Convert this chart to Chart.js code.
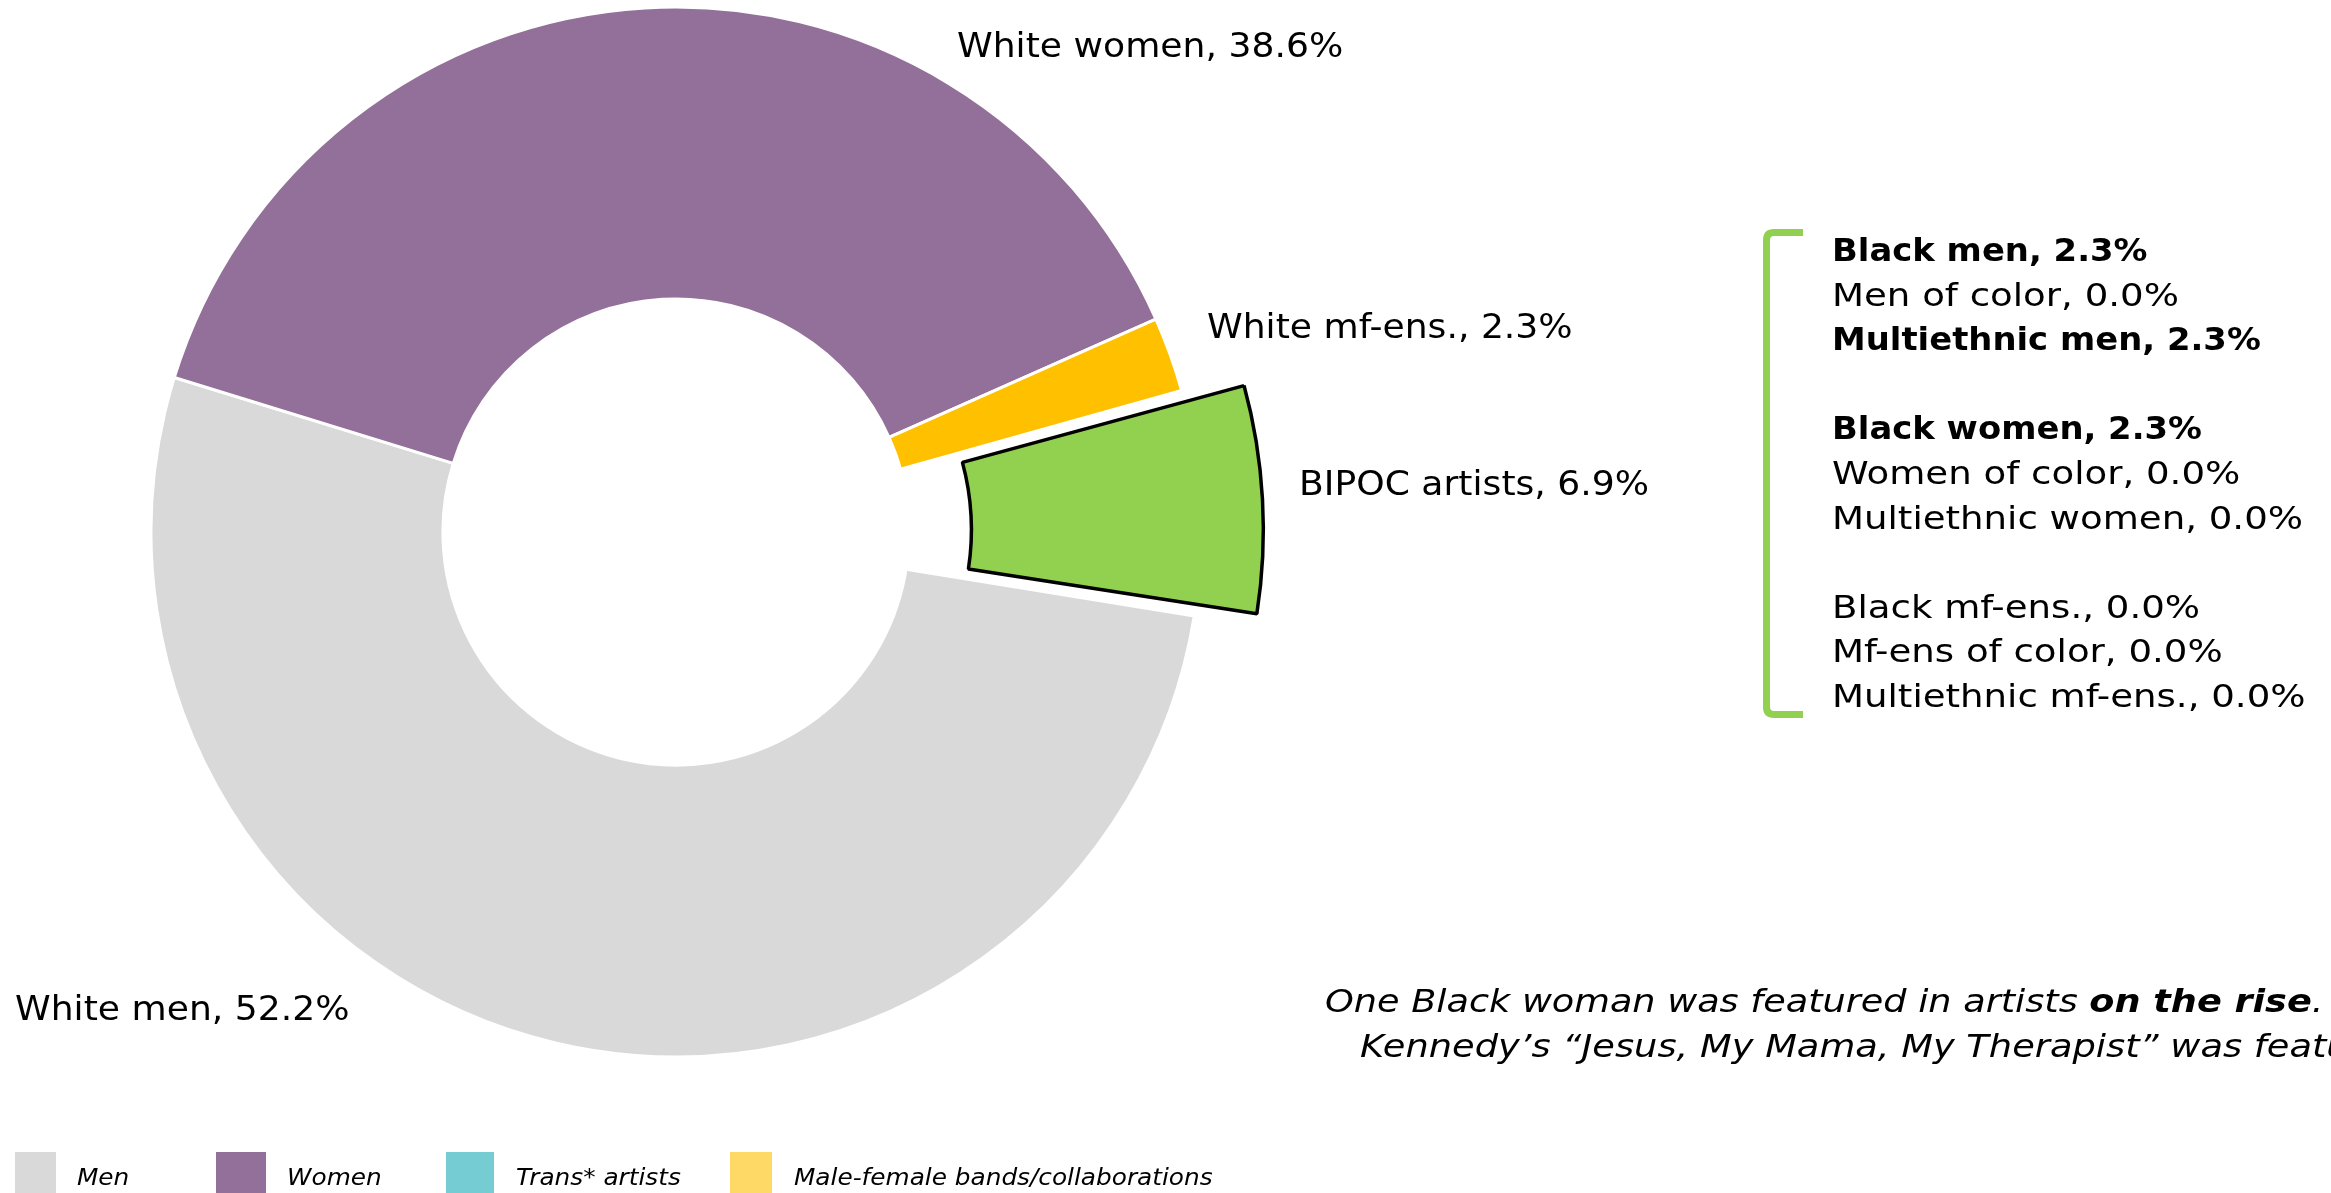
<!DOCTYPE html>
<html>
<head>
<meta charset="utf-8">
<script src="https://cdn.jsdelivr.net/npm/chart.js@4/dist/chart.umd.min.js"></script>
<style>
  html, body { margin: 0; padding: 0; background: #fff; overflow: hidden; }
  body { width: 2331px; height: 1193px; position: relative; }
  #donutBox { position: absolute; left: 0; top: 0; width: 1352px; height: 1064px; }
  #overlay { position: absolute; left: 0; top: 0; pointer-events: none; }
  #overlay text { font-family: "DejaVu Sans", sans-serif; fill: #000; }
</style>
</head>
<body>
<div id="donutBox"><canvas id="donut"></canvas></div>
<svg id="overlay" width="2331" height="1193" xmlns="http://www.w3.org/2000/svg"></svg>
<script>
// slices of the ring
const categories = ['White men', 'White women', 'White mf-ens.', 'BIPOC artists'];
const shares = [52.2, 38.6, 2.3, 6.9];
const sliceColors = ['#d9d9d9', '#937099', '#ffc000', '#92d050'];

// breakdown of the BIPOC slice
const bipocGroups = [
  'Black men', 'Men of color', 'Multiethnic men',
  'Black women', 'Women of color', 'Multiethnic women',
  'Black mf-ens.', 'Mf-ens of color', 'Multiethnic mf-ens.'
];
const bipocShares = [2.3, 0.0, 2.3, 2.3, 0.0, 0.0, 0.0, 0.0, 0.0];

// legend entries
const legendLabels = ['Men', 'Women', 'Trans* artists', 'Male-female bands/collaborations'];
const legendColors = ['#d9d9d9', '#937099', '#75ccd3', '#ffd966'];

// layout
const labelPos = [[15, 1020], [957, 57], [1207, 338], [1299, 495]];
const legendBoxes = [[15, 41], [216, 50], [446, 48], [730, 42]];
const legendTextX = [77, 287, 516, 794];

new Chart(document.getElementById('donut'), {
  type: 'doughnut',
  data: {
    labels: categories,
    datasets: [{
      data: shares,
      backgroundColor: sliceColors,
      borderColor: ['#ffffff', '#ffffff', '#ffffff', '#000000'],
      borderWidth: [3, 3, 3, 3.5],
      offset: [0, 0, 0, 158]
    }]
  },
  options: {
    responsive: true,
    maintainAspectRatio: false,
    animation: false,
    radius: 525,
    cutout: '44.4%',
    rotation: 99.2,
    layout: { padding: 0 },
    plugins: {
      legend: { display: false },
      tooltip: { enabled: false }
    }
  }
});

const svg = document.getElementById('overlay');
const NS = 'http://www.w3.org/2000/svg';

// the wide geometric face isn't installed, so DejaVu gets stretched a bit
function addText(x, y, parts, size, style, stretch) {
  const t = document.createElementNS(NS, 'text');
  t.setAttribute('x', 0);
  t.setAttribute('y', 0);
  t.setAttribute('transform', `translate(${x} ${y}) scale(${stretch || 1} 1)`);
  t.setAttribute('font-size', size);
  if (style) t.setAttribute('font-style', style);
  parts.forEach(p => {
    const s = document.createElementNS(NS, 'tspan');
    if (p.bold) s.setAttribute('font-weight', 'bold');
    s.textContent = p.text;
    t.appendChild(s);
  });
  svg.appendChild(t);
}

function addRect(x, y, w, h, fill) {
  const r = document.createElementNS(NS, 'rect');
  r.setAttribute('x', x);
  r.setAttribute('y', y);
  r.setAttribute('width', w);
  r.setAttribute('height', h);
  r.setAttribute('fill', fill);
  svg.appendChild(r);
}

const pct = v => v.toFixed(1) + '%';

// slice labels
categories.forEach((c, i) => {
  addText(labelPos[i][0], labelPos[i][1], [{ text: c + ', ' + pct(shares[i]) }], 33, null, 1.095);
});

// bracket next to the breakdown
const bracket = document.createElementNS(NS, 'path');
bracket.setAttribute('d', 'M1803 232.5 H1774 Q1766.5 232.5 1766.5 240 V707 Q1766.5 714.5 1774 714.5 H1803');
bracket.setAttribute('fill', 'none');
bracket.setAttribute('stroke', '#92d050');
bracket.setAttribute('stroke-width', 7);
svg.appendChild(bracket);

// breakdown list, one blank row between groups
bipocGroups.forEach((g, i) => {
  const row = i + Math.floor(i / 3);
  const bold = bipocShares[i] > 0;
  addText(1832, 261 + row * 44.6, [{ text: g + ', ' + pct(bipocShares[i]), bold: bold }], 32, null, bold ? 1.058 : 1.16);
});

// note under the breakdown
addText(1325, 1012, [
  { text: 'One Black woman was featured in artists ' },
  { text: 'on the rise', bold: true },
  { text: '.' }
], 32, 'italic', 1.145);
addText(1360, 1057, [{ text: 'Kennedy\u2019s \u201cJesus, My Mama, My Therapist\u201d was featured' }], 32, 'italic', 1.15);

// legend
legendLabels.forEach((l, i) => {
  addRect(legendBoxes[i][0], 1152, legendBoxes[i][1], 45, legendColors[i]);
  addText(legendTextX[i], 1185, [{ text: l }], 23, 'italic', 1.077);
});
</script>
</body>
</html>
